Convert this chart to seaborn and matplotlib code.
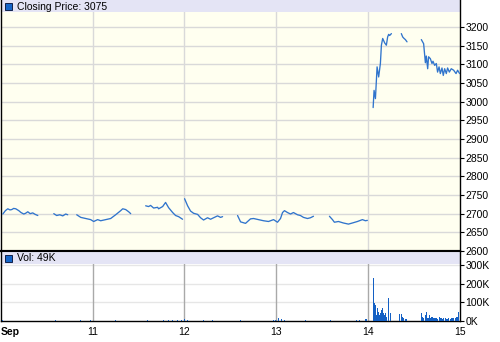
import numpy as np
import pandas as pd
import matplotlib
matplotlib.use("Agg")
import matplotlib.pyplot as plt
from matplotlib.patches import Rectangle
import seaborn as sns

# ---------------- data ----------------
# price segments (time in days of September, price)
seg1_t = [10.022, 10.050, 10.076, 10.100, 10.120, 10.140, 10.163, 10.196, 10.220, 10.250, 10.270, 10.294, 10.320, 10.348, 10.375, 10.403]
seg1_p = [2699, 2708, 2713, 2710, 2711, 2714, 2713, 2708, 2703, 2699, 2701, 2705, 2700, 2702, 2698, 2695]
seg2_t = [10.577, 10.609, 10.642, 10.675, 10.707, 10.729]
seg2_p = [2700, 2695, 2697, 2694, 2699, 2697]
seg3_t = [10.827, 10.871, 10.925, 10.979, 11.012, 11.055, 11.088, 11.143, 11.197, 11.251, 11.306, 11.328, 11.360, 11.393, 11.415]
seg3_p = [2697, 2690, 2687, 2684, 2679, 2684, 2681, 2684, 2687, 2697, 2708, 2713, 2711, 2705, 2700]
seg4_t = [11.578, 11.610, 11.632, 11.665, 11.708, 11.719, 11.763, 11.795, 11.828, 11.872, 11.904, 11.937, 11.980]
seg4_p = [2721, 2719, 2722, 2715, 2717, 2713, 2719, 2730, 2716, 2703, 2695, 2692, 2685]
seg5_t = [12.002, 12.035, 12.067, 12.100, 12.144, 12.176, 12.209, 12.252, 12.285, 12.318, 12.361, 12.394, 12.416]
seg5_p = [2740, 2721, 2707, 2701, 2698, 2689, 2683, 2689, 2685, 2689, 2694, 2690, 2692]
seg6_t = [12.579, 12.612, 12.666, 12.720, 12.753, 12.807, 12.862, 12.916, 12.971, 13.014, 13.047, 13.069, 13.090, 13.123, 13.156, 13.188, 13.232, 13.264, 13.297, 13.341, 13.373, 13.406]
seg6_p = [2695, 2678, 2674, 2686, 2687, 2684, 2681, 2679, 2684, 2677, 2687, 2703, 2708, 2703, 2699, 2703, 2697, 2695, 2690, 2687, 2689, 2693]
seg7_t = [13.580, 13.613, 13.634, 13.678, 13.732, 13.787, 13.830, 13.885, 13.939, 13.972, 13.993]
seg7_p = [2693, 2684, 2677, 2679, 2675, 2672, 2675, 2679, 2684, 2681, 2682]
seg8_t = [14.056, 14.066, 14.081, 14.099, 14.116, 14.135, 14.146, 14.160, 14.182, 14.200, 14.214, 14.225, 14.236, 14.255]
seg8_p = [2984, 3030, 3008, 3093, 3066, 3102, 3151, 3169, 3157, 3151, 3173, 3180, 3177, 3182]
seg9_t = [14.363, 14.378, 14.393, 14.407, 14.425]
seg9_p = [3182, 3173, 3169, 3166, 3160]
seg10_t = [14.581, 14.606, 14.625, 14.635, 14.650, 14.660, 14.679, 14.697, 14.708, 14.726, 14.744, 14.758, 14.774, 14.788,
           14.806, 14.820, 14.835, 14.853, 14.867, 14.886, 14.907, 14.933, 14.959, 14.976, 14.998]
seg10_p = [3166, 3155, 3104, 3122, 3088, 3120, 3115, 3102, 3108, 3097, 3102, 3079, 3093, 3075,
           3090, 3070, 3088, 3075, 3090, 3079, 3088, 3084, 3075, 3084, 3075]

# volume (time, thousands of shares)
vol_t = [10.018, 10.598, 10.871, 10.979, 11.251, 11.600, 11.774, 11.828, 11.872, 11.926, 11.970, 12.002, 12.035,
         12.209, 12.307, 12.612, 12.971, 12.992, 13.025, 13.058, 13.090, 13.319, 13.591, 13.874, 13.906, 13.977,
         14.059, 14.070, 14.077, 14.084, 14.091, 14.102, 14.113, 14.124, 14.135, 14.146, 14.157, 14.168, 14.179,
         14.189, 14.200, 14.222, 14.247, 14.345, 14.367, 14.378, 14.389, 14.407, 14.421,
         14.581, 14.592, 14.606, 14.625, 14.639, 14.654, 14.668, 14.682, 14.697, 14.715, 14.730, 14.744, 14.758,
         14.777, 14.795, 14.810, 14.824, 14.842, 14.861, 14.878, 14.897, 14.915, 14.933, 14.951, 14.969, 14.987]
vol_k = [5, 4, 6, 4, 5, 5, 7, 6, 5, 8, 6, 9, 7,
         4, 5, 4, 8, 6, 14, 9, 7, 4, 4, 5, 5, 9,
         232, 95, 86, 59, 32, 68, 50, 32, 41, 59, 71, 41, 32,
         41, 23, 121, 41, 36, 36, 23, 18, 11, 9,
         41, 23, 18, 32, 50, 18, 32, 14, 23, 14, 18, 14, 11,
         23, 14, 11, 14, 18, 11, 14, 11, 18, 14, 18, 23, 46]

price_ticks = list(range(2600, 3201, 50))
vol_ticks = [0, 100, 200, 300]
vol_tick_labels = ["0K", "100K", "200K", "300K"]
day_ticks = [10, 11, 12, 13, 14, 15]
day_labels = ["Sep", "11", "12", "13", "14", "15"]
price_title = "Closing Price: 3075"
vol_title = "Vol: 49K"

# ---------------- build frames ----------------
segs_t = [seg1_t, seg2_t, seg3_t, seg4_t, seg5_t, seg6_t, seg7_t, seg8_t, seg9_t, seg10_t]
segs_p = [seg1_p, seg2_p, seg3_p, seg4_p, seg5_p, seg6_p, seg7_p, seg8_p, seg9_p, seg10_p]
rows = []
for i, (ts, ps) in enumerate(zip(segs_t, segs_p)):
    for t, p in zip(ts, ps):
        rows.append((i, t, p))
price_df = pd.DataFrame(rows, columns=["seg", "t", "price"])
vol_df = pd.DataFrame({"t": vol_t, "vol": np.array(vol_k) * 1000.0})

# ---------------- style ----------------
sns.set_style("white")
plt.rcParams["font.family"] = ["Liberation Sans", "DejaVu Sans"]
plt.rcParams["font.size"] = 7.5

W, H = 500, 342
fig = plt.figure(figsize=(W / 100, H / 100), dpi=100)
fig.patch.set_facecolor("white")
left = 0.8 / W
width = 459 / W
ax1 = fig.add_axes([left, 91 / H, width, 251 / H])
ax2 = fig.add_axes([left, 21 / H, width, 70 / H])

line_color = "#3074cc"
bar_color = "#1460c4"
header_color = "#e4e4f5"

# price panel
ax1.set_facecolor("#fffff0")
sns.lineplot(data=price_df, x="t", y="price", units="seg", estimator=None,
             color=line_color, linewidth=0.95, ax=ax1, legend=False, zorder=3)
ax1.set_xlim(10, 15)
ax1.set_ylim(2600, 3272)
ax1.set_yticks(price_ticks)
ax1.set_xticks(day_ticks[1:-1])
ax1.tick_params(axis="x", length=0, labelbottom=False)
ax1.yaxis.tick_right()
ax1.tick_params(axis="y", direction="out", length=3, width=0.8, pad=1, colors="black", labelsize=7.5, right=True)
ax1.grid(True, color="#d9d9d9", linewidth=1.0)
ax1.set_axisbelow(True)
ax1.set_xlabel("")
ax1.set_ylabel("")
for s in ["left", "right"]:
    ax1.spines[s].set_color("black")
    ax1.spines[s].set_linewidth(1.0)
ax1.spines["top"].set_visible(False)
ax1.spines["bottom"].set_color("black")
ax1.spines["bottom"].set_linewidth(1.5)
ax1.add_patch(Rectangle((0, 1 - 12 / 251), 1, 12 / 251, transform=ax1.transAxes,
                        facecolor=header_color, edgecolor="none", zorder=2.5))

# volume panel
ax2.set_facecolor("white")
sns.barplot(data=vol_df, x="t", y="vol", native_scale=True, orient="x", errorbar=None,
            color=bar_color, saturation=1, width=2.0, linewidth=0, ax=ax2, zorder=3)
ax2.set_xlim(10, 15)
ax2.set_ylim(0, 375000)
ax2.set_yticks([v * 1000 for v in vol_ticks])
ax2.set_yticklabels(vol_tick_labels)
ax2.yaxis.tick_right()
ax2.tick_params(axis="y", direction="out", length=3, width=0.8, pad=1, colors="black", labelsize=7.5, right=True)
ax2.set_xticks(day_ticks)
ax2.set_xticklabels(day_labels)
ax2.tick_params(axis="x", direction="out", length=2, width=0.8, pad=2, colors="black", labelsize=7.5)
ax2.grid(False)
for d in day_ticks[1:-1]:
    ax2.axvline(d, color="#a9a9a9", linewidth=1.0, zorder=1)
for v in vol_ticks[1:]:
    ax2.axhline(v * 1000, color="#e6e6e6", linewidth=1.0, zorder=0.5)
ax2.set_xlabel("")
ax2.set_ylabel("")
for s in ["left", "right", "bottom"]:
    ax2.spines[s].set_color("black")
    ax2.spines[s].set_linewidth(1.0)
ax2.spines["top"].set_color("black")
ax2.spines["top"].set_linewidth(1.5)
ax2.add_patch(Rectangle((0, 1 - 13 / 70), 1, 13 / 70, transform=ax2.transAxes,
                        facecolor=header_color, edgecolor="none", zorder=2.5))

lbls = ax2.get_xticklabels()
lbls[0].set_horizontalalignment("left")
lbls[0].set_fontweight("bold")
lbls[0].set_x(9.985)

# header squares and texts (figure pixel coordinates)
def px(x, y):
    return x / W, 1 - y / H

for ytop, txt in [(3, price_title), (254.5, vol_title)]:
    fig.patches.append(Rectangle(px(5, ytop + 7), 7 / W, 7 / H, transform=fig.transFigure,
                                 facecolor="#1565c8", edgecolor="#10204a", linewidth=0.7, zorder=5))
    fig.text(*px(17, ytop + 3.5), txt, ha="left", va="center", fontsize=7.5, color="black", zorder=6)

fig.savefig("out.png", dpi=100)
